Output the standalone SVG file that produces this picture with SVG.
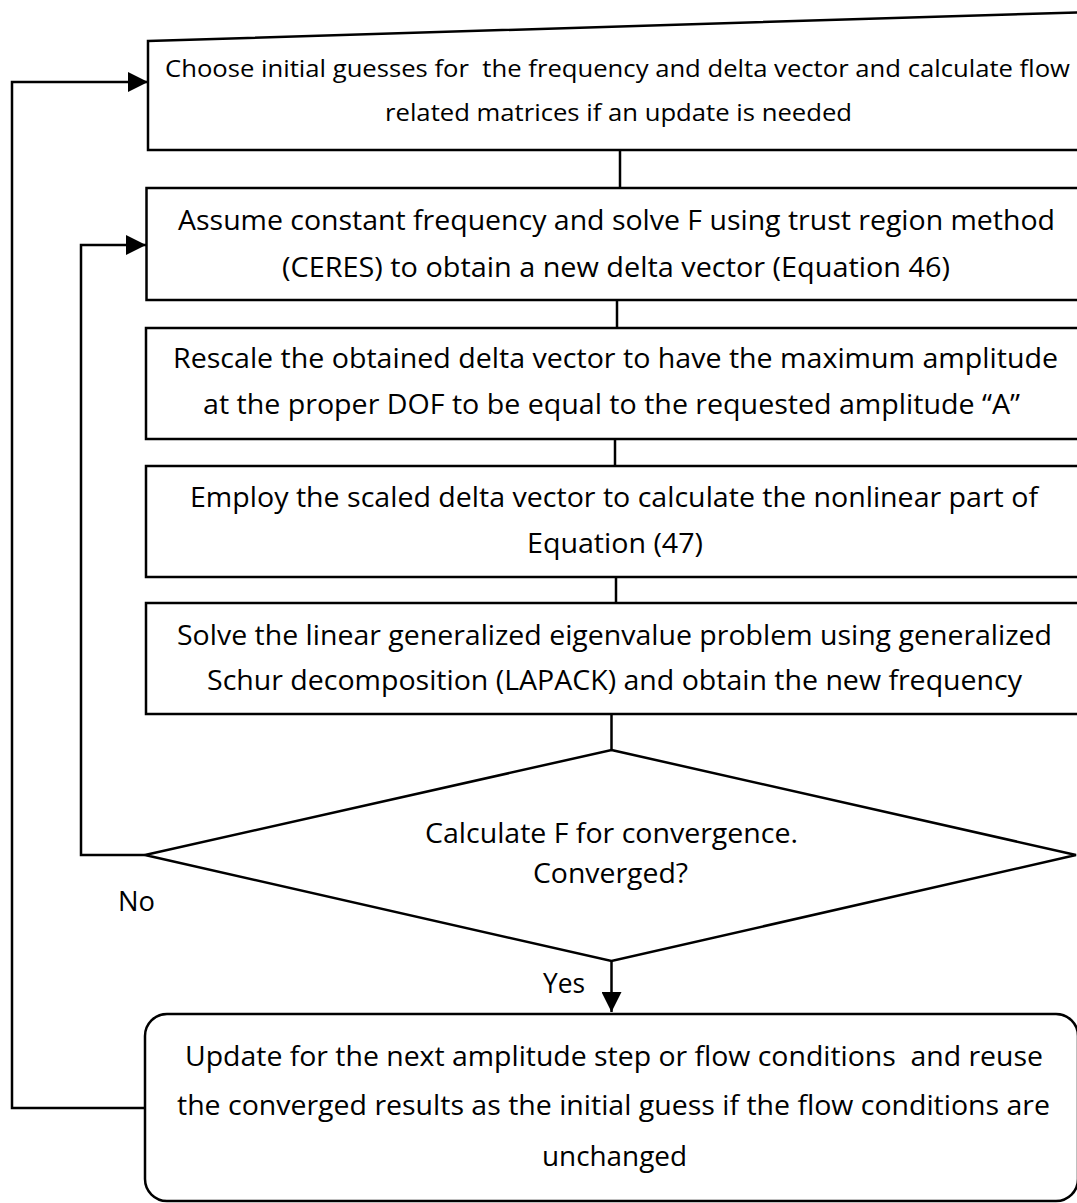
<svg xmlns="http://www.w3.org/2000/svg" width="1077" height="1203" viewBox="0 0 1077 1203">
<style>
.shape{fill:#fff;stroke:#000;stroke-width:2.5}
.conn{fill:none;stroke:#000;stroke-width:2.5}
text{font-family:"Open Sans","Liberation Sans",sans-serif;font-size:26.5px;fill:#000;text-anchor:middle;white-space:pre}
.small{font-size:23px}
.lbl{text-anchor:start}
</style>
<defs>
<marker id="arr" viewBox="0 0 20 20" refX="20" refY="10" markerWidth="20" markerHeight="20" markerUnits="userSpaceOnUse" orient="auto">
<path d="M0,0 L20,10 L0,20 Z" fill="#000"/>
</marker>
</defs>
<rect width="1077" height="1203" fill="#fff"/>
<g id="connectors">
<line class="conn" x1="620" y1="150" x2="620" y2="188"/>
<line class="conn" x1="617" y1="300" x2="617" y2="328"/>
<line class="conn" x1="615" y1="439" x2="615" y2="466"/>
<line class="conn" x1="616" y1="577" x2="616" y2="603"/>
<line class="conn" x1="611.5" y1="714" x2="611.5" y2="750"/>
<line class="conn" x1="611.5" y1="961" x2="611.5" y2="1012" marker-end="url(#arr)"/>
<polyline class="conn" points="145,855 81,855 81,245 146,245" marker-end="url(#arr)"/>
<polyline class="conn" points="145,1108 12,1108 12,82 148,82" marker-end="url(#arr)"/>
<text class="lbl" x="118" y="911" textLength="37" lengthAdjust="spacingAndGlyphs">No</text>
<text class="lbl" x="543" y="993" textLength="42" lengthAdjust="spacingAndGlyphs">Yes</text>
</g>
<g id="node1">
<polygon class="shape" points="148,41 1090,12 1090,150 148,150"/>
<text class="small" x="617.5" y="77" textLength="905" lengthAdjust="spacingAndGlyphs">Choose initial guesses for  the frequency and delta vector and calculate flow</text>
<text class="small" x="618.5" y="121" textLength="467" lengthAdjust="spacingAndGlyphs">related matrices if an update is needed</text>
</g>
<g id="node2">
<rect class="shape" x="146.5" y="188" width="945" height="112"/>
<text x="616.5" y="230" textLength="877" lengthAdjust="spacingAndGlyphs">Assume constant frequency and solve F using trust region method</text>
<text x="616" y="277" textLength="668" lengthAdjust="spacingAndGlyphs">(CERES) to obtain a new delta vector (Equation 46)</text>
</g>
<g id="node3">
<rect class="shape" x="146" y="328" width="945" height="111"/>
<text x="615.5" y="368" textLength="885" lengthAdjust="spacingAndGlyphs">Rescale the obtained delta vector to have the maximum amplitude</text>
<text x="611.5" y="414" textLength="817" lengthAdjust="spacingAndGlyphs">at the proper DOF to be equal to the requested amplitude “A”</text>
</g>
<g id="node4">
<rect class="shape" x="146" y="466" width="945" height="111"/>
<text x="614" y="507" textLength="848" lengthAdjust="spacingAndGlyphs">Employ the scaled delta vector to calculate the nonlinear part of</text>
<text x="615" y="553" textLength="176" lengthAdjust="spacingAndGlyphs">Equation (47)</text>
</g>
<g id="node5">
<rect class="shape" x="146" y="603" width="945" height="111"/>
<text x="614.5" y="645" textLength="875" lengthAdjust="spacingAndGlyphs">Solve the linear generalized eigenvalue problem using generalized</text>
<text x="614.5" y="690" textLength="815" lengthAdjust="spacingAndGlyphs">Schur decomposition (LAPACK) and obtain the new frequency</text>
</g>
<g id="decision">
<polygon class="shape" points="611.5,750 1076,855 611.5,961 145,855"/>
<text x="611.5" y="843" textLength="373" lengthAdjust="spacingAndGlyphs">Calculate F for convergence.</text>
<text x="610.5" y="883" textLength="155" lengthAdjust="spacingAndGlyphs">Converged?</text>
</g>
<g id="node6">
<rect class="shape" x="145" y="1014" width="933" height="187" rx="22" ry="22"/>
<text x="614" y="1066" textLength="858" lengthAdjust="spacingAndGlyphs">Update for the next amplitude step or flow conditions  and reuse</text>
<text x="613.5" y="1115" textLength="873" lengthAdjust="spacingAndGlyphs">the converged results as the initial guess if the flow conditions are</text>
<text x="614.5" y="1166" textLength="145" lengthAdjust="spacingAndGlyphs">unchanged</text>
</g>
</svg>
